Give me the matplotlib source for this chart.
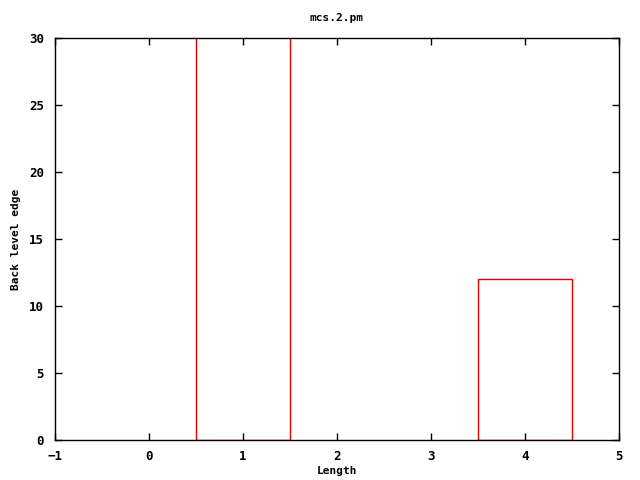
import matplotlib
matplotlib.use('Agg')
import matplotlib.pyplot as plt

# valeurs
lengths = [1, 4]
counts = [45, 12]   # la barre a 1 depasse le haut de l'axe (coupee a 30)

plt.rcParams['font.family'] = 'DejaVu Sans Mono'
plt.rcParams['font.weight'] = 'bold'
plt.rcParams['font.size'] = 8

fig = plt.figure(figsize=(6.4, 4.8), dpi=100)
ax = fig.add_axes([55/640, 1-440/480, (619-55)/640, (440-38)/480])

ax.bar(lengths, counts, width=1.0, fill=False, edgecolor='#e00000', linewidth=1)

ax.set_xlim(-1, 5)
ax.set_ylim(0, 30)
ax.set_xticks(range(-1, 6))
ax.set_yticks(range(0, 31, 5))
ax.tick_params(direction='in', top=True, right=True, length=5, width=1,
               pad=8, labelsize=9)
ax.tick_params(axis='x', pad=7)
for s in ax.spines.values():
    s.set_linewidth(1)

ax.set_xlabel('Length', fontweight='bold', fontsize=8, labelpad=2)
ax.set_ylabel('Back level edge', fontweight='bold', fontsize=8, labelpad=6)
ax.set_title('mcs.2.pm', fontweight='bold', fontsize=8, pad=12)

fig.savefig('out.png', dpi=100)
